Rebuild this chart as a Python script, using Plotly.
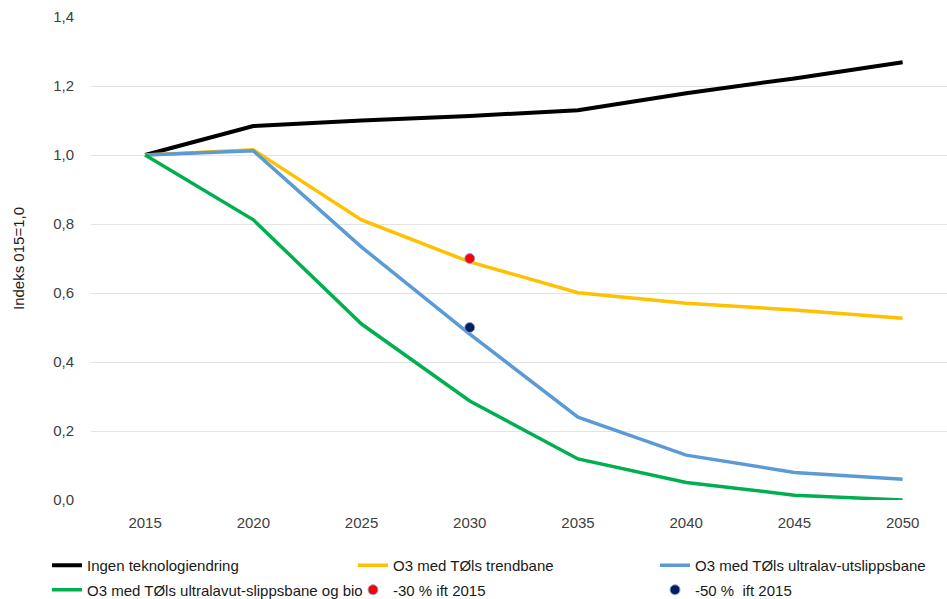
import plotly.graph_objects as go

years = ["2015", "2020", "2025", "2030", "2035", "2040", "2045", "2050"]
ingen = [1.0, 1.084, 1.10, 1.113, 1.130, 1.179, 1.222, 1.269]
trend = [1.0, 1.015, 0.812, 0.690, 0.601, 0.570, 0.551, 0.527]
ultralav = [1.0, 1.012, 0.733, 0.481, 0.240, 0.130, 0.080, 0.060]
ultralav_bio = [1.0, 0.812, 0.510, 0.287, 0.119, 0.051, 0.014, 0.0]
target_years = ["2030"]
minus30 = [0.70]
minus50 = [0.50]

FONT = "Liberation Sans Narrow, Liberation Sans, Arial, sans-serif"

fig = go.Figure()
fig.add_trace(go.Scatter(x=years, y=ingen, mode="lines", name="Ingen teknologiendring",
                         line=dict(color="#000000", width=4), legend="legend", legendgroup="a"))
fig.add_trace(go.Scatter(x=years, y=trend, mode="lines", name="O3 med TØls trendbane",
                         line=dict(color="#FFC000", width=3.5), legend="legend2", legendgroup="b"))
fig.add_trace(go.Scatter(x=years, y=ultralav, mode="lines", name="O3 med TØls ultralav-utslippsbane",
                         line=dict(color="#5B9BD5", width=3.5), legend="legend3", legendgroup="c"))
fig.add_trace(go.Scatter(x=years, y=ultralav_bio, mode="lines", name="O3 med TØls ultralavut-slippsbane og bio",
                         line=dict(color="#00B050", width=3.5), legend="legend", legendgroup="d"))
fig.add_trace(go.Scatter(x=target_years, y=minus30, mode="markers", name="-30 % ift 2015",
                         marker=dict(color="#FF0000", size=10, line=dict(color="#8FAADC", width=1)),
                         legend="legend2", legendgroup="e"))
fig.add_trace(go.Scatter(x=target_years, y=minus50, mode="markers", name="-50 %  ift 2015",
                         marker=dict(color="#002060", size=10, line=dict(color="#8FAADC", width=1)),
                         legend="legend3", legendgroup="f"))

W, H = 947, 599
PL, PW, PT = 91, 856, 17
LEG_TOP = 549


def px_x(px):
    return (px - PL) / PW


leg_common = dict(xref="paper", yref="container", xanchor="left", yanchor="top",
                  y=1 - LEG_TOP / H, orientation="v", traceorder="grouped", tracegroupgap=2,
                  font=dict(family=FONT, size=15, color="#1a1a1a"), bgcolor="rgba(0,0,0,0)",
                  itemwidth=30)

fig.update_layout(
    width=W, height=H,
    margin=dict(l=PL, r=0, t=PT, b=99, autoexpand=False),
    paper_bgcolor="white", plot_bgcolor="white",
    separators=", ",
    font=dict(family=FONT, size=15, color="#404040"),
    showlegend=True,
    legend=dict(x=px_x(47), **leg_common),
    legend2=dict(x=px_x(353), **leg_common),
    legend3=dict(x=px_x(655), **leg_common),
    xaxis=dict(type="category", range=[-0.5, 7.41], showgrid=False, showline=False,
               ticks="", tickfont=dict(family=FONT, size=15, color="#404040"),
               ticklabelstandoff=12, zeroline=False),
    yaxis=dict(range=[0, 1.4], dtick=0.2, tick0=0, tickformat=".1f",
               showgrid=True, gridcolor="#E3E3E3", gridwidth=1, zeroline=False,
               showline=False, ticks="", ticklabelstandoff=16,
               tickfont=dict(family=FONT, size=15, color="#404040"),
               title=dict(text="Indeks 015=1,0", standoff=24,
                          font=dict(family=FONT, size=15, color="#1a1a1a"))),
)

fig.write_html("out.html")
